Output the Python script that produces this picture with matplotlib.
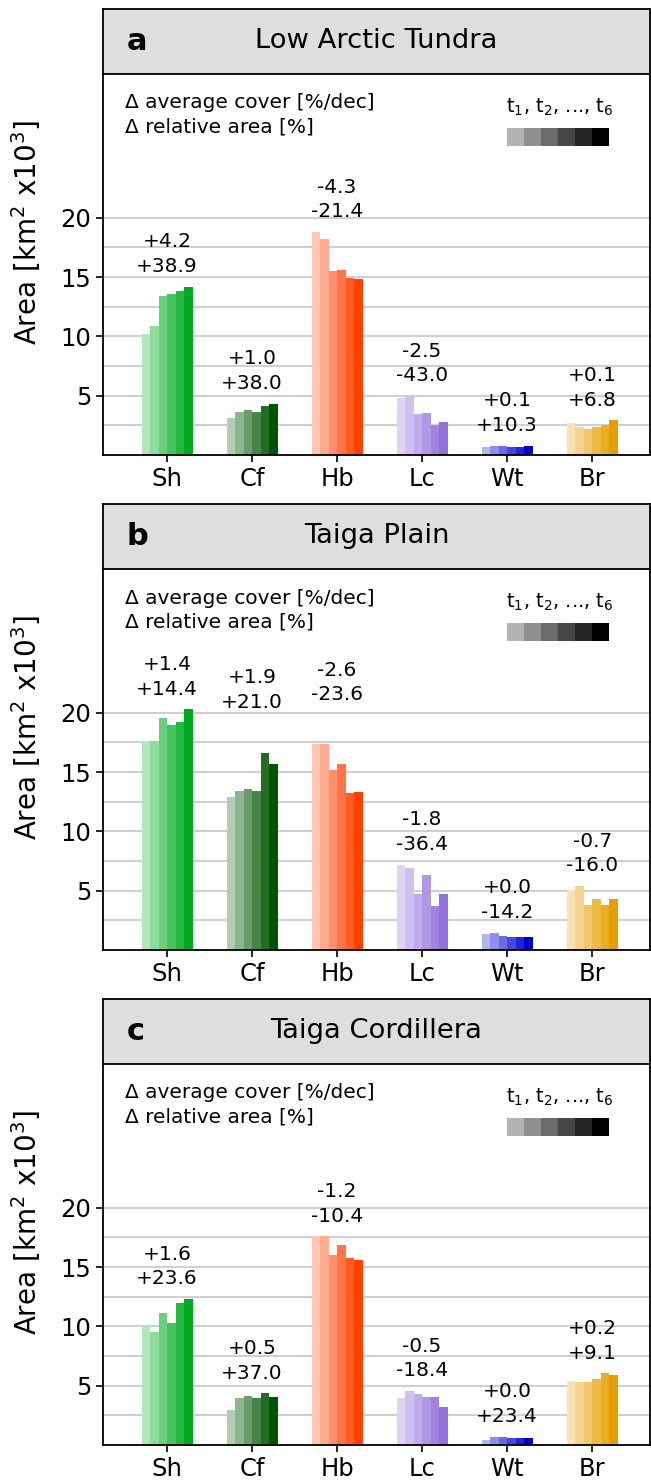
import numpy as np
import matplotlib
matplotlib.use("Agg")
import matplotlib.pyplot as plt
from matplotlib.patches import Rectangle
import matplotlib.transforms as mtransforms

# ---------------- data ----------------
categories = ["Sh", "Cf", "Hb", "Lc", "Wt", "Br"]
panel_letters = ["a", "b", "c"]
panel_titles = ["Low Arctic Tundra", "Taiga Plain", "Taiga Cordillera"]

# area [km^2 x10^3] for t1..t6, per category
area_a_Sh = [10.2, 10.9, 13.4, 13.6, 13.8, 14.2]
area_a_Cf = [3.1, 3.65, 3.77, 3.6, 4.16, 4.33]
area_a_Hb = [18.8, 18.2, 15.5, 15.6, 14.9, 14.8]
area_a_Lc = [4.84, 4.98, 3.46, 3.52, 2.56, 2.76]
area_a_Wt = [0.65, 0.79, 0.79, 0.70, 0.70, 0.76]
area_a_Br = [2.7, 2.39, 2.17, 2.39, 2.56, 2.93]

area_b_Sh = [17.6, 17.6, 19.6, 19.0, 19.2, 20.3]
area_b_Cf = [12.9, 13.4, 13.6, 13.4, 16.6, 15.7]
area_b_Hb = [17.4, 17.4, 15.2, 15.7, 13.2, 13.3]
area_b_Lc = [7.2, 6.9, 4.7, 6.3, 3.7, 4.7]
area_b_Wt = [1.35, 1.45, 1.2, 1.1, 1.1, 1.1]
area_b_Br = [5.1, 5.4, 3.8, 4.3, 3.8, 4.3]

area_c_Sh = [10.0, 9.5, 11.1, 10.3, 12.0, 12.3]
area_c_Cf = [2.94, 4.0, 4.12, 3.93, 4.35, 4.04]
area_c_Hb = [17.6, 17.6, 16.0, 16.9, 15.8, 15.6]
area_c_Lc = [3.93, 4.55, 4.27, 4.01, 4.07, 3.19]
area_c_Wt = [0.45, 0.65, 0.71, 0.62, 0.62, 0.56]
area_c_Br = [5.4, 5.3, 5.3, 5.6, 6.05, 5.88]

# change in average cover [%/dec]
d_cover_a = ["+4.2", "+1.0", "-4.3", "-2.5", "+0.1", "+0.1"]
d_cover_b = ["+1.4", "+1.9", "-2.6", "-1.8", "+0.0", "-0.7"]
d_cover_c = ["+1.6", "+0.5", "-1.2", "-0.5", "+0.0", "+0.2"]
# change in relative area [%]
d_area_a = ["+38.9", "+38.0", "-21.4", "-43.0", "+10.3", "+6.8"]
d_area_b = ["+14.4", "+21.0", "-23.6", "-36.4", "-14.2", "-16.0"]
d_area_c = ["+23.6", "+37.0", "-10.4", "-18.4", "+23.4", "+9.1"]

yticks_major = [5, 10, 15, 20]
yticks_minor = [2.5, 7.5, 12.5, 17.5]

# ---------------- style / layout ----------------
base_colors = ["#00aa20", "#005500", "#ff4000", "#9370db", "#0000cd", "#e69f00"]
alphas = np.linspace(0.3, 1.0, 6)
label_gap = 0.9
label_lift = {(1, 1): 2.6, (1, 2): 2.4}   # extra lift of a label (panel, category)

panels = [
    [area_a_Sh, area_a_Cf, area_a_Hb, area_a_Lc, area_a_Wt, area_a_Br],
    [area_b_Sh, area_b_Cf, area_b_Hb, area_b_Lc, area_b_Wt, area_b_Br],
    [area_c_Sh, area_c_Cf, area_c_Hb, area_c_Lc, area_c_Wt, area_c_Br],
]
d_covers = [d_cover_a, d_cover_b, d_cover_c]
d_areas = [d_area_a, d_area_b, d_area_c]


def blend(color, a):
    rgb = np.array(matplotlib.colors.to_rgb(color))
    return tuple(1 - a * (1 - rgb))


W, H = 651, 1484
fig = plt.figure(figsize=(W / 100, H / 100), dpi=100)

left_px, right_px = 103, 650
panel_px = [(9, 455), (504, 950), (999, 1445)]
box_h_px = 65
bar_w = 0.1
ylim_top = 37.6

for p in range(3):
    top, bot = panel_px[p]
    ax = fig.add_axes([left_px / W, 1 - bot / H, (right_px - left_px) / W, (bot - top) / H])
    box_frac = 1 - box_h_px / (bot - top)
    x = np.arange(len(categories))
    for i, cat in enumerate(categories):
        vals = panels[p][i]
        for j in range(6):
            ax.bar(x[i] + (j - 2.5) * bar_w, vals[j], width=bar_w,
                   color=blend(base_colors[i], alphas[j]), linewidth=0, zorder=2)
        ax.text(x[i], max(vals) + label_gap + label_lift.get((p, i), 0.0),
                f"{d_covers[p][i]}\n{d_areas[p][i]}",
                ha="center", va="bottom", fontsize=14.5, linespacing=1.38, zorder=3)

    ax.set_xlim(-0.753, 5.68)
    ax.set_ylim(0, ylim_top)
    ax.set_xticks(x)
    ax.set_xticklabels(categories, fontsize=17.5)
    ax.set_yticks(yticks_major)
    ax.set_yticks(yticks_minor, minor=True)
    ax.tick_params(axis="y", which="major", labelsize=17.5, length=5, width=1.2)
    ax.tick_params(axis="y", which="minor", length=0)
    ax.tick_params(axis="x", length=5, width=1.2)
    ax.grid(axis="y", which="both", color="#d0d0d0", linewidth=1.5, zorder=0)
    ax.set_axisbelow(True)
    for s in ax.spines.values():
        s.set_linewidth(1.3)
    ax.set_ylabel("Area [km$^2$ x10$^3$]", fontsize=20)
    ax.yaxis.set_label_coords(-0.11, 0.5)

    # title box
    ax.add_patch(Rectangle((0, box_frac), 1, 1 - box_frac, transform=ax.transAxes,
                           facecolor="#dedede", edgecolor="none", zorder=1, clip_on=False))
    ax.plot([0, 1], [box_frac, box_frac], transform=ax.transAxes, color="k",
            linewidth=1.3, zorder=4, clip_on=False)
    ymid = (1 + box_frac) / 2
    ax.text(0.043, ymid, panel_letters[p], transform=ax.transAxes, fontsize=22,
            fontweight="bold", ha="left", va="center")
    ax.text(0.5, ymid, panel_titles[p], transform=ax.transAxes, fontsize=19.7,
            ha="center", va="center")

    # info text
    ph = bot - top
    ax.text(0.04, (bot - (top + 94)) / ph, "\u0394 average cover [%/dec]",
            transform=ax.transAxes, fontsize=14.5, ha="left", va="center")
    ax.text(0.04, (bot - (top + 118)) / ph, "\u0394 relative area [%]",
            transform=ax.transAxes, fontsize=14.5, ha="left", va="center")

    # time legend
    trans = mtransforms.blended_transform_factory(ax.transData, ax.transAxes)
    y0 = (bot - (top + 137)) / ph
    y1 = (bot - (top + 119)) / ph
    for j in range(6):
        ax.add_patch(Rectangle((4.0 + 0.2 * j, y0), 0.2, y1 - y0, transform=trans,
                               facecolor=blend("black", alphas[j]), edgecolor="none",
                               zorder=3, clip_on=False))
    ax.text(4.62, (bot - (top + 98)) / ph, "t$_1$, t$_2$, ..., t$_6$",
            transform=trans, fontsize=14, ha="center", va="center")

fig.savefig("out.png", dpi=100)
